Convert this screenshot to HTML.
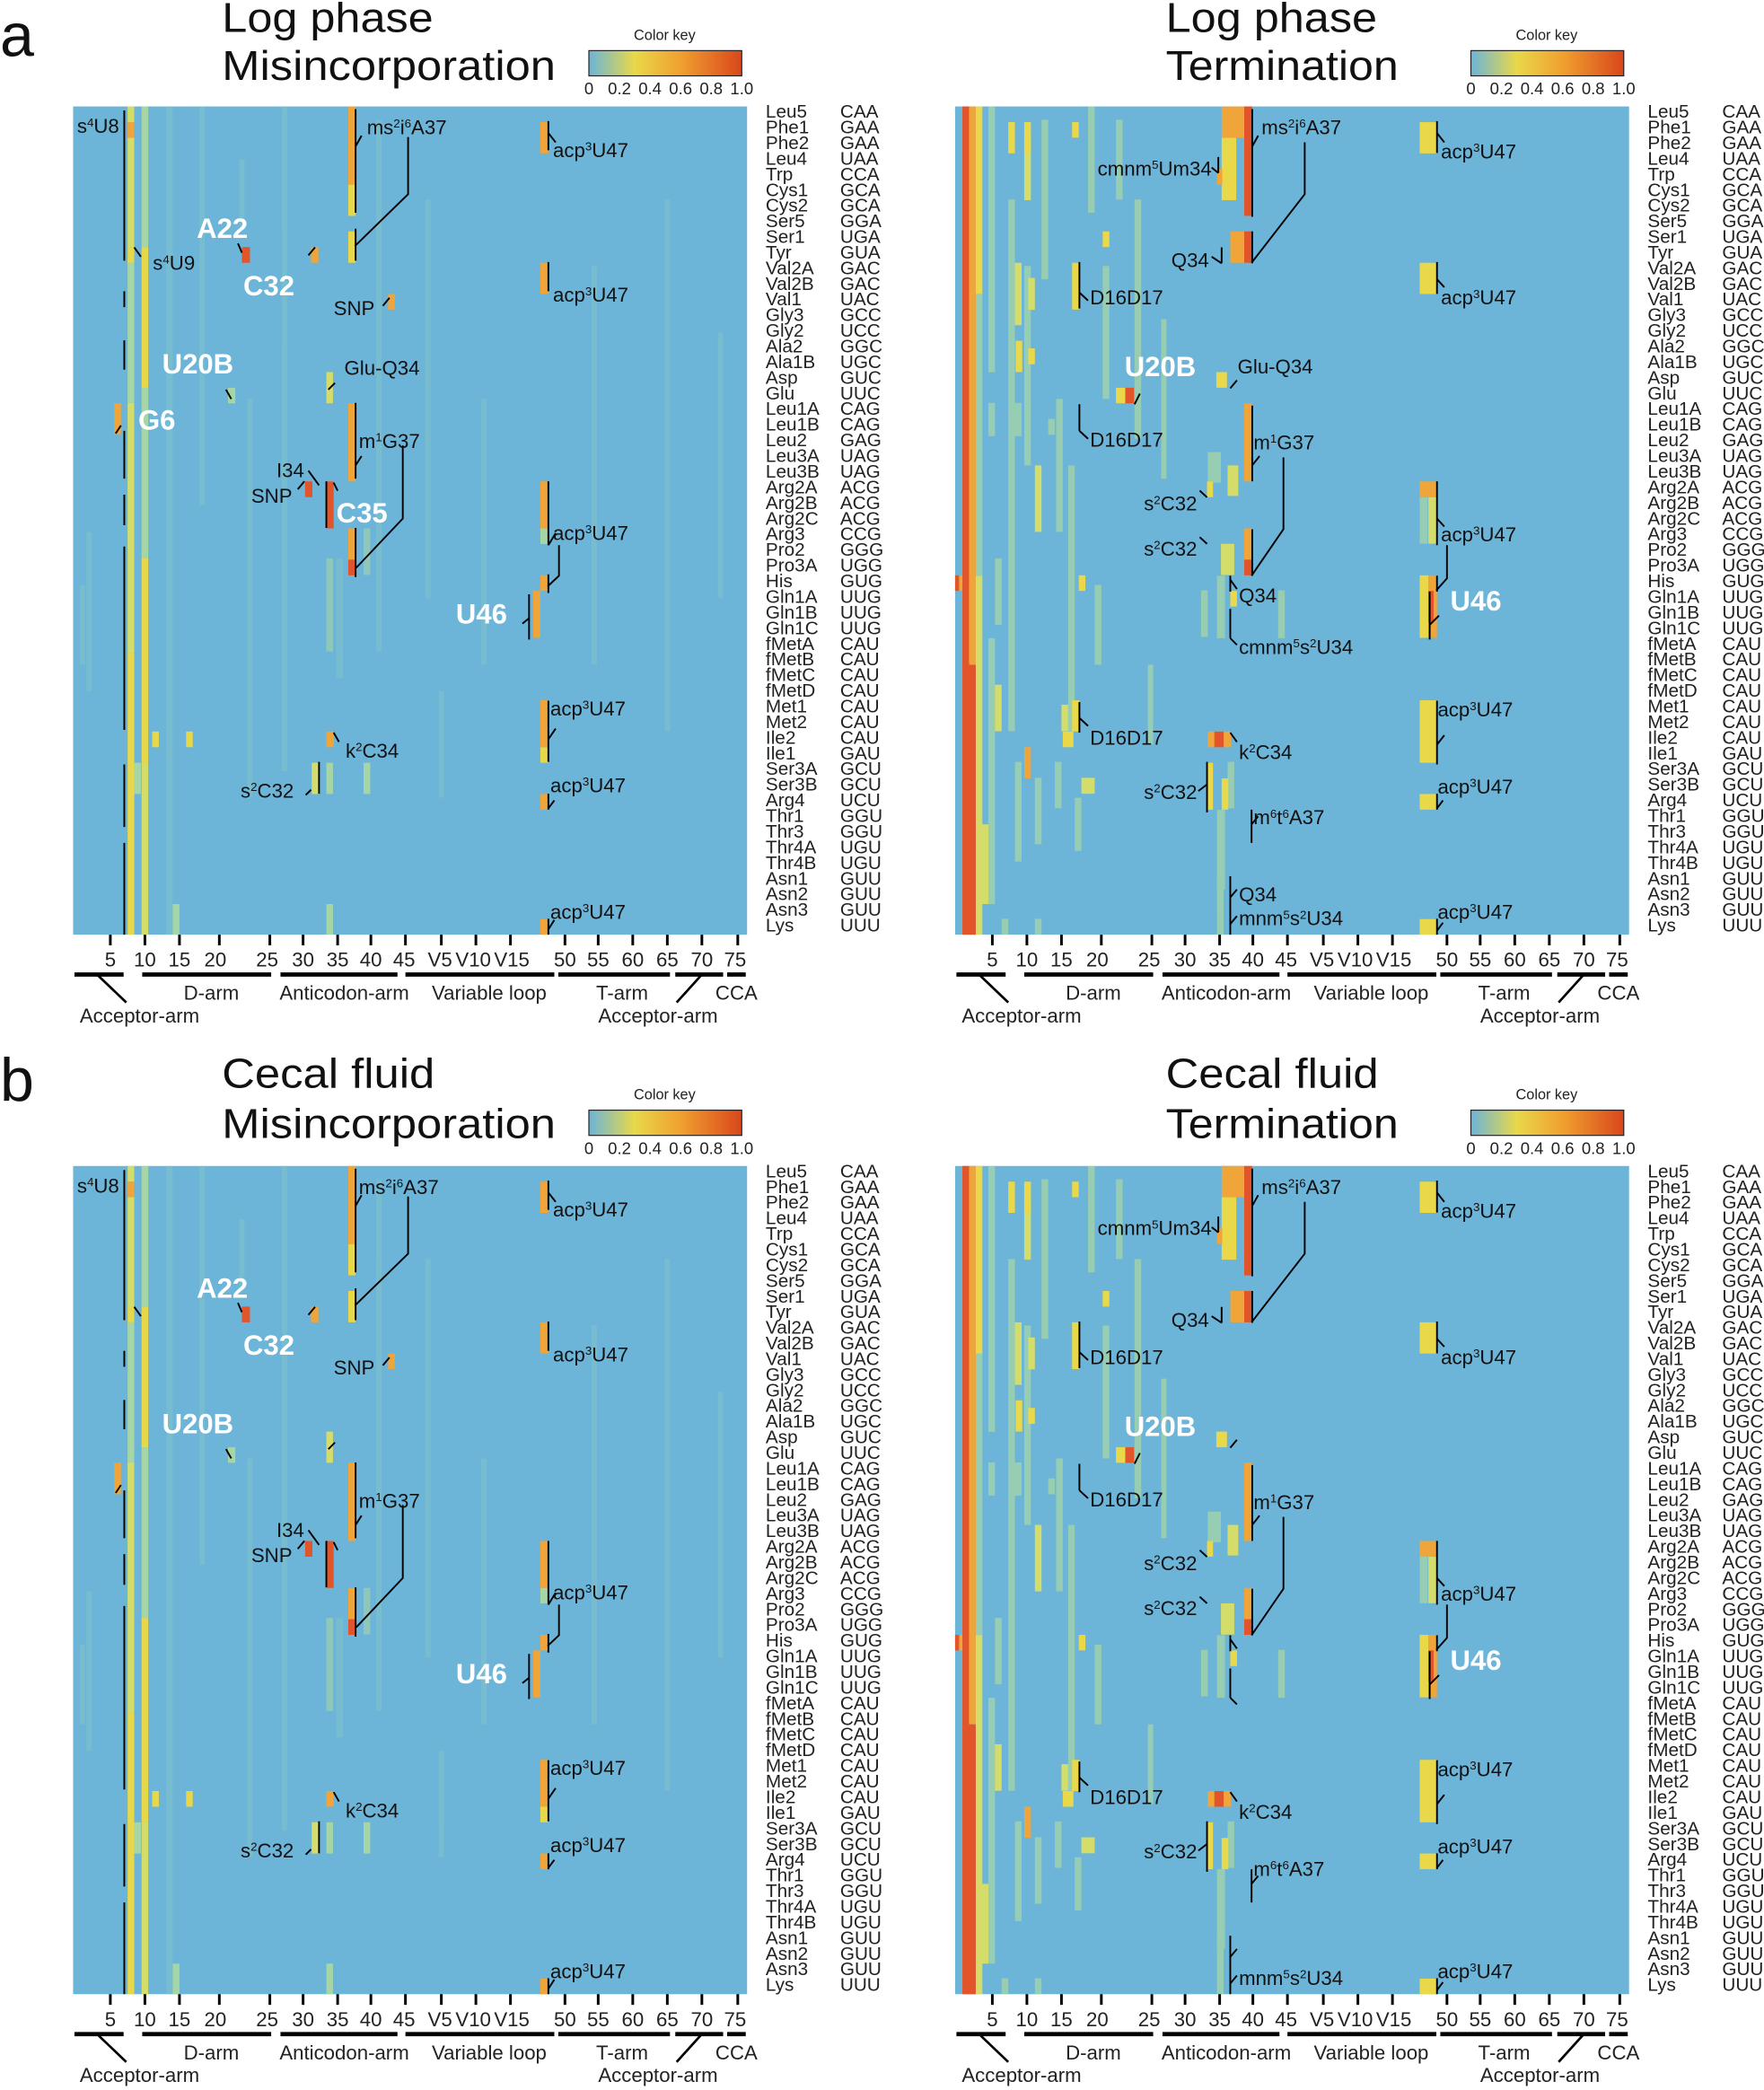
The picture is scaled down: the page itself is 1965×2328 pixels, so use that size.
<!DOCTYPE html>
<html><head><meta charset="utf-8"><style>html,body{margin:0;padding:0;background:#fff}svg{display:block}</style></head>
<body>
<svg width="1965" height="2328" viewBox="0 0 1327 1572" xmlns="http://www.w3.org/2000/svg" xmlns:xlink="http://www.w3.org/1999/xlink" font-family="'Liberation Sans', Arial, sans-serif">
<defs>
<linearGradient id="ck" x1="0" x2="1" y1="0" y2="0">
<stop offset="0" stop-color="#6cb4d8"/><stop offset="0.3" stop-color="#e8d84a"/><stop offset="0.6" stop-color="#f0a030"/><stop offset="1" stop-color="#d9461c"/>
</linearGradient>

<g id="hmL">
<rect x="55" y="80" width="507" height="623" fill="#6cb4d8"/>
<g fill="#80c2cc" opacity="0.6">
<rect x="125" y="80" width="5" height="623"/><rect x="150" y="80" width="4" height="300"/><rect x="186" y="300" width="4" height="300"/>
<rect x="212" y="80" width="4" height="500"/><rect x="283" y="90" width="4" height="400"/><rect x="320" y="150" width="4" height="300"/>
<rect x="362" y="300" width="4" height="200"/><rect x="445" y="200" width="4" height="300"/><rect x="500" y="150" width="4" height="400"/>
<rect x="540" y="250" width="4" height="200"/><rect x="65" y="400" width="4" height="120"/><rect x="60" y="440" width="4" height="60"/>
<rect x="253" y="420" width="5" height="90"/><rect x="180" y="120" width="4" height="50"/><rect x="330" y="520" width="4" height="80"/>
</g>
<g fill="#a6d6a6">
<rect x="96" y="197.6" width="5" height="105.4"/><rect x="106.5" y="80" width="5" height="105.8"/><rect x="106.5" y="291.6" width="5" height="128.4"/>
<rect x="171.5" y="291.6" width="5.5" height="11.7"/><rect x="406.5" y="397.4" width="6" height="11.7"/><rect x="245.5" y="420" width="5" height="70" opacity="0.6"/>
<rect x="273.5" y="397.4" width="5" height="35" opacity="0.6"/><rect x="245.5" y="573.7" width="5" height="23.5"/><rect x="273.5" y="573.7" width="5" height="23.5"/>
<rect x="245.5" y="680" width="5" height="23"/><rect x="130" y="680" width="5" height="23"/><rect x="101" y="573.7" width="5" height="23.5"/>
</g>
<g fill="#d4dd6a">
<rect x="96" y="80" width="5" height="11.8"/><rect x="96" y="103.5" width="5" height="82.3"/><rect x="96" y="303" width="5" height="188"/>
<rect x="106.5" y="573.7" width="5" height="129.3"/><rect x="245.5" y="279.8" width="5" height="23.5"/><rect x="234.5" y="573.7" width="5.5" height="23.5"/>
</g>
<g fill="#e6d84a">
<rect x="96" y="185.8" width="5" height="11.8"/><rect x="96" y="491" width="5" height="212"/><rect x="106.5" y="185.8" width="5" height="105.8"/>
<rect x="106.5" y="420" width="5" height="153.7"/><rect x="262" y="138.8" width="5.5" height="23.5"/><rect x="262" y="174" width="5.5" height="23.6"/>
<rect x="114.5" y="550.2" width="5" height="11.8"/><rect x="140" y="550.2" width="5" height="11.8"/><rect x="406.5" y="562" width="6" height="11.7"/>
</g>
<g fill="#f0a53a">
<rect x="96" y="91.8" width="5" height="11.7"/><rect x="86" y="303.3" width="5" height="23.6"/><rect x="262" y="80" width="5.5" height="58.8"/>
<rect x="262" y="303.3" width="5.5" height="58.8"/><rect x="262" y="397.4" width="5.5" height="23.5"/><rect x="234" y="185.8" width="5.5" height="11.8"/>
<rect x="292" y="221.1" width="5" height="11.7"/><rect x="406.5" y="91.8" width="6" height="23.5"/><rect x="406.5" y="197.6" width="6" height="23.5"/>
<rect x="406.5" y="362.1" width="6" height="35.3"/><rect x="406.5" y="432.7" width="6" height="11.7"/><rect x="401" y="444.4" width="5.5" height="35.3"/>
<rect x="406.5" y="526.7" width="6" height="35.3"/><rect x="406.5" y="597.2" width="6" height="11.8"/><rect x="406.5" y="691.3" width="6" height="11.7"/>
<rect x="245.5" y="550.2" width="5.5" height="11.8"/>
</g>
<g fill="#e2542a">
<rect x="262" y="420.9" width="5.5" height="11.8"/><rect x="245.5" y="362.1" width="5.5" height="35.3"/><rect x="229.5" y="362.1" width="5.5" height="11.8"/>
<rect x="182" y="185.8" width="6" height="11.8"/>
</g>
<g stroke="#000" stroke-width="1.3" fill="none">
<path d="M93.5 83V196M93.5 219V231M93.5 256V278M93.5 324V360M93.5 372V395M93.5 411V549M93.5 575V622M93.5 634V703"/>
<path d="M267.5 82V160M267.5 172V196M267.5 303V360M267.5 397V434"/>
<path d="M412.5 91V113M412.5 197V219M412.5 362V410M412.5 432V446M412.5 527V573M412.5 597V609M412.5 691V703"/>
<path d="M398 447V481M245.5 362V397M240 573V597"/>
<path d="M267.5 110L272 102M307 103V146L267 185M412.5 100L418 107M101 186L106 193M179 183L182 190M232 192L237 186M288 230L293 224M170 293L174 300M252 288L247 293M91 320L87 326M267.5 350L272 343M303 335V390L268 427M229 362L224 368M232 354L240 365M251 363L254 369M412.5 410L418 401M420.5 410V433L412 441M393 469L398 465M412.5 556L418 548M251 551L255 558M234 594L230 598M412.5 608L417 602M412.5 699L417 692"/>
</g>
</g>

<g id="hmR">
<rect x="55" y="80" width="507" height="623" fill="#6cb4d8"/>
<g fill="#a6d6a6" opacity="0.75">
<rect x="70.5" y="221" width="5" height="212"/><rect x="80" y="80" width="5" height="200"/><rect x="95" y="150" width="5" height="400"/>
<rect x="107" y="200" width="5" height="150"/><rect x="120" y="90" width="5" height="120"/><rect x="131" y="300" width="5" height="100"/>
<rect x="155" y="80" width="5" height="80"/><rect x="166" y="200" width="5" height="100"/><rect x="176" y="90" width="5" height="60"/>
<rect x="100" y="573" width="5" height="75"/><rect x="115" y="585" width="5" height="50"/><rect x="130" y="573" width="5" height="35"/><rect x="145" y="600" width="5" height="40"/>
<rect x="80" y="303" width="5" height="25"/><rect x="100" y="303" width="5" height="25"/><rect x="125" y="315" width="5" height="12"/>
<rect x="245" y="340" width="10" height="23"/>
<rect x="252" y="433" width="6" height="47"/><rect x="298" y="444" width="5" height="36"/><rect x="252" y="609" width="6" height="60"/>
<rect x="252" y="660" width="5" height="43"/><rect x="240" y="444" width="5" height="35"/><rect x="260" y="573" width="5" height="35"/>
<rect x="404.5" y="373.9" width="6" height="35"/><rect x="90" y="691" width="5" height="12"/><rect x="115" y="691" width="5" height="12"/><rect x="190" y="150" width="5" height="180"/>
<rect x="210" y="240" width="4" height="120"/><rect x="140" y="350" width="5" height="200"/><rect x="80" y="480" width="5" height="200"/>
<rect x="85" y="420" width="5" height="50"/><rect x="160" y="440" width="5" height="60"/><rect x="200" y="500" width="4" height="60"/>
</g>
<g fill="#d4dd6a">
<rect x="70.5" y="433" width="5" height="270"/><rect x="107" y="103.5" width="5" height="47"/><rect x="100" y="197.6" width="5" height="47"/><rect x="110" y="209" width="5" height="24"/>
<rect x="115" y="350" width="5" height="50"/><rect x="260" y="350" width="8" height="23"/><rect x="255" y="409" width="10" height="23.5"/>
<rect x="85" y="515" width="5" height="35"/><rect x="150" y="585" width="10" height="12"/><rect x="75" y="620" width="5" height="60"/>
<rect x="135" y="530" width="5" height="20"/><rect x="411" y="373.9" width="6.5" height="35"/>
</g>
<g fill="#e8d84a">
<rect x="70.5" y="80" width="5" height="141"/><rect x="95" y="91.8" width="5" height="23.5"/><rect x="107" y="91.8" width="5" height="23.5"/>
<rect x="143" y="197.6" width="5.5" height="35.2"/><rect x="100.5" y="256.3" width="5" height="23.5"/><rect x="110" y="262" width="5" height="12"/><rect x="143" y="91.8" width="5" height="11.7"/>
<rect x="166" y="174" width="5" height="11.8"/><rect x="176" y="291.6" width="7" height="11.7"/><rect x="143" y="526.7" width="5.5" height="23.5"/>
<rect x="136" y="550.2" width="8" height="11.8"/><rect x="255.5" y="103.5" width="11" height="47"/><rect x="251.5" y="279.8" width="8" height="11.8"/>
<rect x="244.5" y="362.1" width="4.5" height="11.8"/><rect x="244.5" y="573.7" width="4.5" height="35.3"/><rect x="255.5" y="585.5" width="5" height="23.5"/>
<rect x="404.5" y="91.8" width="13" height="23.5"/><rect x="404.5" y="197.6" width="13" height="23.5"/><rect x="404.5" y="526.7" width="13" height="47"/>
<rect x="404.5" y="597.2" width="13" height="11.8"/><rect x="404.5" y="691.3" width="13" height="11.7"/><rect x="404.5" y="432.7" width="6.5" height="47"/>
<rect x="262" y="444.4" width="5" height="11.8"/><rect x="148" y="432.7" width="5" height="11.7"/>
</g>
<g fill="#f0a53a">
<rect x="65.5" y="80" width="5" height="420"/><rect x="255.5" y="80" width="17" height="23.5"/><rect x="262" y="174" width="10.5" height="23.6"/>
<rect x="107" y="562" width="5" height="23.5"/><rect x="404.5" y="362.1" width="13" height="11.8"/><rect x="411" y="432.7" width="6.5" height="47"/>
<rect x="245" y="550.2" width="17.5" height="11.8"/><rect x="272.5" y="303.3" width="6" height="58.8"/><rect x="272.5" y="397.4" width="6" height="23.5"/>
<rect x="252" y="127" width="4" height="11.8"/><rect x="55" y="432.7" width="5.5" height="11.7"/>
</g>
<g fill="#e2542a">
<rect x="60.5" y="80" width="5" height="623"/><rect x="65.5" y="500" width="5" height="203"/><rect x="272.5" y="80" width="6" height="82.3"/>
<rect x="272.5" y="174" width="6" height="23.6"/><rect x="183" y="291.6" width="6.5" height="11.7"/><rect x="272.5" y="420.9" width="6" height="11.8"/>
<rect x="250" y="550.2" width="7" height="11.8"/><rect x="55" y="432.7" width="3" height="11.7"/><rect x="411" y="444.4" width="4" height="23.5"/>
</g>
<g stroke="#000" stroke-width="1.3" fill="none">
<path d="M278.5 82V163M278.5 174V198M278.5 305V362M278.5 398V433M417.5 91V115M417.5 197V221M417.5 362V410M417.5 433V445M417.5 527V575M417.5 597V609M417.5 691V703"/>
<path d="M412 445V481M148.5 197V232M148.5 304V324M148.5 528V551M244.5 573V611M278 609V634M262 659V703M262 458V480M262 433V445M253 118V130M255.5 186V198"/>
<path d="M278.5 110L283 102M318 107V146L278 197.6M253 130L248 126M255.5 198L248 193M148.5 220L155 226M148.5 324L155 330M148.5 540L155 546M417.5 100L423 107M417.5 210L423 216M190 304L194 296M262 292L267 286M278.5 350L284 343M302 344V398L278 433M244.5 374L239 369M244.5 409L239 404M417.5 390L423 396M425 410V435L417 444M412 470L419 463M262 436L267 443M262 480L267 485M262 551L267 558M417.5 560L423 553M244.5 590L238 595M417.5 608L422 602M278 620L283 614M262 675L267 669M262 695L267 689M417.5 700L422 694"/>
</g>
</g>

<g id="axis" font-size="15" fill="#222" text-anchor="middle">
<path stroke="#000" stroke-width="2" d="M83 703V711M109 703V711M135 703V711M165 703V711M203 703V711M228 703V711M254 703V711M279 703V711M305 703V711M332 703V711M358 703V711M384 703V711M425 703V711M450 703V711M476 703V711M502 703V711M528 703V711M555 703V711"/>
<text x="83" y="727">5</text><text x="109" y="727">10</text><text x="135" y="727">15</text><text x="162" y="727">20</text><text x="201" y="727">25</text><text x="228" y="727">30</text><text x="254" y="727">35</text><text x="279" y="727">40</text><text x="304" y="727">45</text><text x="331" y="727">V5</text><text x="356" y="727">V10</text><text x="385" y="727">V15</text><text x="425" y="727">50</text><text x="450" y="727">55</text><text x="476" y="727">60</text><text x="502" y="727">65</text><text x="528" y="727">70</text><text x="553" y="727">75</text>
<path stroke="#000" stroke-width="3.2" d="M56 733H93M107 733H204M211 733H299M305 733H417M420 733H504M508 733H544M547 733H561"/>
<path stroke="#000" stroke-width="1.8" d="M73 733L95 754M528 733L509 754"/>
<text x="159" y="752">D-arm</text><text x="259" y="752">Anticodon-arm</text><text x="368" y="752">Variable loop</text><text x="468" y="752">T-arm</text><text x="554" y="752">CCA</text>
<text x="105" y="769">Acceptor-arm</text><text x="495" y="769">Acceptor-arm</text>
</g>

<g id="ckey">
<text x="500" y="30" font-size="11" text-anchor="middle" fill="#222">Color key</text>
<rect x="443" y="38" width="115" height="19" fill="url(#ck)" stroke="#222" stroke-width="0.8"/>
<g font-size="12.5" text-anchor="middle" fill="#222"><text x="443" y="71">0</text><text x="466" y="71">0.2</text><text x="489" y="71">0.4</text><text x="512" y="71">0.6</text><text x="535" y="71">0.8</text><text x="558" y="71">1.0</text></g>
</g>

<g id="rows" font-size="14" fill="#222">
<g transform="translate(576,0)">
<text y="88.5">Leu5</text><text y="100.3">Phe1</text><text y="112">Phe2</text><text y="123.8">Leu4</text><text y="135.6">Trp</text><text y="147.4">Cys1</text><text y="159.1">Cys2</text><text y="170.9">Ser5</text><text y="182.7">Ser1</text><text y="194.4">Tyr</text><text y="206.2">Val2A</text><text y="218">Val2B</text><text y="229.7">Val1</text><text y="241.5">Gly3</text><text y="253.3">Gly2</text><text y="265">Ala2</text><text y="276.8">Ala1B</text><text y="288.6">Asp</text><text y="300.4">Glu</text><text y="312.1">Leu1A</text><text y="323.9">Leu1B</text><text y="335.7">Leu2</text><text y="347.4">Leu3A</text><text y="359.2">Leu3B</text><text y="371">Arg2A</text><text y="382.8">Arg2B</text><text y="394.5">Arg2C</text><text y="406.3">Arg3</text><text y="418.1">Pro2</text><text y="429.8">Pro3A</text><text y="441.6">His</text><text y="453.4">Gln1A</text><text y="465.2">Gln1B</text><text y="476.9">Gln1C</text><text y="488.7">fMetA</text><text y="500.5">fMetB</text><text y="512.2">fMetC</text><text y="524">fMetD</text><text y="535.8">Met1</text><text y="547.6">Met2</text><text y="559.3">Ile2</text><text y="571.1">Ile1</text><text y="582.9">Ser3A</text><text y="594.6">Ser3B</text><text y="606.4">Arg4</text><text y="618.2">Thr1</text><text y="629.9">Thr3</text><text y="641.7">Thr4A</text><text y="653.5">Thr4B</text><text y="665.3">Asn1</text><text y="677">Asn2</text><text y="688.8">Asn3</text><text y="700.6">Lys</text>
</g>
<g transform="translate(632,0)">
<text y="88.5">CAA</text><text y="100.3">GAA</text><text y="112">GAA</text><text y="123.8">UAA</text><text y="135.6">CCA</text><text y="147.4">GCA</text><text y="159.1">GCA</text><text y="170.9">GGA</text><text y="182.7">UGA</text><text y="194.4">GUA</text><text y="206.2">GAC</text><text y="218">GAC</text><text y="229.7">UAC</text><text y="241.5">GCC</text><text y="253.3">UCC</text><text y="265">GGC</text><text y="276.8">UGC</text><text y="288.6">GUC</text><text y="300.4">UUC</text><text y="312.1">CAG</text><text y="323.9">CAG</text><text y="335.7">GAG</text><text y="347.4">UAG</text><text y="359.2">UAG</text><text y="371">ACG</text><text y="382.8">ACG</text><text y="394.5">ACG</text><text y="406.3">CCG</text><text y="418.1">GGG</text><text y="429.8">UGG</text><text y="441.6">GUG</text><text y="453.4">UUG</text><text y="465.2">UUG</text><text y="476.9">UUG</text><text y="488.7">CAU</text><text y="500.5">CAU</text><text y="512.2">CAU</text><text y="524">CAU</text><text y="535.8">CAU</text><text y="547.6">CAU</text><text y="559.3">CAU</text><text y="571.1">GAU</text><text y="582.9">GCU</text><text y="594.6">GCU</text><text y="606.4">UCU</text><text y="618.2">GGU</text><text y="629.9">GGU</text><text y="641.7">UGU</text><text y="653.5">UGU</text><text y="665.3">GUU</text><text y="677">GUU</text><text y="688.8">GUU</text><text y="700.6">UUU</text>
</g>
</g>
</defs>

<text x="0" y="42" font-size="46" fill="#111">a</text>
<text x="0" y="828" font-size="46" fill="#111">b</text>

<!-- a left -->
<g>
<text x="167" y="24" font-size="31" fill="#111" textLength="159" lengthAdjust="spacingAndGlyphs">Log phase</text>
<text x="167" y="60" font-size="31" fill="#111" textLength="251" lengthAdjust="spacingAndGlyphs">Misincorporation</text>
<use xlink:href="#ckey"/><use xlink:href="#hmL"/><use xlink:href="#axis"/><use xlink:href="#rows"/>
<g font-size="15" fill="#111">
<text x="58" y="100">s<tspan dy="-5" font-size="9">4</tspan><tspan dy="5">U8</tspan></text>
<text x="276" y="101">ms<tspan dy="-5" font-size="9">2</tspan><tspan dy="5">i</tspan><tspan dy="-5" font-size="9">6</tspan><tspan dy="5">A37</tspan></text>
<text x="416" y="118">acp<tspan dy="-5" font-size="9">3</tspan><tspan dy="5">U47</tspan></text>
<text x="115" y="203">s<tspan dy="-5" font-size="9">4</tspan><tspan dy="5">U9</tspan></text>
<text x="251" y="237">SNP</text>
<text x="416" y="227">acp<tspan dy="-5" font-size="9">3</tspan><tspan dy="5">U47</tspan></text>
<text x="259" y="282">Glu-Q34</text>
<text x="270" y="337">m<tspan dy="-5" font-size="9">1</tspan><tspan dy="5">G37</tspan></text>
<text x="208" y="359">I34</text>
<text x="189" y="378">SNP</text>
<text x="416" y="406">acp<tspan dy="-5" font-size="9">3</tspan><tspan dy="5">U47</tspan></text>
<text x="414" y="538">acp<tspan dy="-5" font-size="9">3</tspan><tspan dy="5">U47</tspan></text>
<text x="260" y="570">k<tspan dy="-5" font-size="9">2</tspan><tspan dy="5">C34</tspan></text>
<text x="181" y="600">s<tspan dy="-5" font-size="9">2</tspan><tspan dy="5">C32</tspan></text>
<text x="414" y="596">acp<tspan dy="-5" font-size="9">3</tspan><tspan dy="5">U47</tspan></text>
<text x="414" y="691">acp<tspan dy="-5" font-size="9">3</tspan><tspan dy="5">U47</tspan></text>
</g>
<g font-size="21" font-weight="bold" fill="#fff">
<text x="148" y="179">A22</text><text x="183" y="222">C32</text><text x="122" y="281">U20B</text><text x="104" y="323">G6</text><text x="253" y="393">C35</text><text x="343" y="469">U46</text>
</g>
</g>

<!-- a right -->
<text x="877" y="24" font-size="31" fill="#111" textLength="159" lengthAdjust="spacingAndGlyphs">Log phase</text>
<text x="877" y="60" font-size="31" fill="#111" textLength="175" lengthAdjust="spacingAndGlyphs">Termination</text>
<g transform="translate(663.5,0)">
<use xlink:href="#ckey"/><use xlink:href="#hmR"/><use xlink:href="#axis"/><use xlink:href="#rows"/>
<g font-size="15" fill="#111">
<text x="285.5" y="101">ms<tspan dy="-5" font-size="9">2</tspan><tspan dy="5">i</tspan><tspan dy="-5" font-size="9">6</tspan><tspan dy="5">A37</tspan></text>
<text x="248" y="132" text-anchor="end">cmnm<tspan dy="-5" font-size="9">5</tspan><tspan dy="5">Um34</tspan></text>
<text x="420.5" y="119">acp<tspan dy="-5" font-size="9">3</tspan><tspan dy="5">U47</tspan></text>
<text x="246" y="201" text-anchor="end">Q34</text>
<text x="156.5" y="229">D16D17</text>
<text x="420.5" y="229">acp<tspan dy="-5" font-size="9">3</tspan><tspan dy="5">U47</tspan></text>
<text x="267.5" y="281">Glu-Q34</text>
<text x="156.5" y="336">D16D17</text>
<text x="279.5" y="338">m<tspan dy="-5" font-size="9">1</tspan><tspan dy="5">G37</tspan></text>
<text x="237" y="384" text-anchor="end">s<tspan dy="-5" font-size="9">2</tspan><tspan dy="5">C32</tspan></text>
<text x="237" y="418" text-anchor="end">s<tspan dy="-5" font-size="9">2</tspan><tspan dy="5">C32</tspan></text>
<text x="420.5" y="407">acp<tspan dy="-5" font-size="9">3</tspan><tspan dy="5">U47</tspan></text>
<text x="268.5" y="453">Q34</text>
<text x="268.5" y="492">cmnm<tspan dy="-5" font-size="9">5</tspan><tspan dy="5">s</tspan><tspan dy="-5" font-size="9">2</tspan><tspan dy="5">U34</tspan></text>
<text x="418" y="539">acp<tspan dy="-5" font-size="9">3</tspan><tspan dy="5">U47</tspan></text>
<text x="156.5" y="560">D16D17</text>
<text x="268.5" y="571">k<tspan dy="-5" font-size="9">2</tspan><tspan dy="5">C34</tspan></text>
<text x="237" y="601" text-anchor="end">s<tspan dy="-5" font-size="9">2</tspan><tspan dy="5">C32</tspan></text>
<text x="418" y="597">acp<tspan dy="-5" font-size="9">3</tspan><tspan dy="5">U47</tspan></text>
<text x="279.5" y="620">m<tspan dy="-5" font-size="9">6</tspan><tspan dy="5">t</tspan><tspan dy="-5" font-size="9">6</tspan><tspan dy="5">A37</tspan></text>
<text x="268.5" y="678">Q34</text>
<text x="268.5" y="696">mnm<tspan dy="-5" font-size="9">5</tspan><tspan dy="5">s</tspan><tspan dy="-5" font-size="9">2</tspan><tspan dy="5">U34</tspan></text>
<text x="418" y="691">acp<tspan dy="-5" font-size="9">3</tspan><tspan dy="5">U47</tspan></text>
</g>
<g font-size="21" font-weight="bold" fill="#fff">
<text x="182.5" y="283">U20B</text><text x="427.5" y="459">U46</text>
</g>
</g>

<!-- b left -->
<g transform="translate(0,797)">
<text x="167" y="21" font-size="31" fill="#111" textLength="160" lengthAdjust="spacingAndGlyphs">Cecal fluid</text>
<text x="167" y="59" font-size="31" fill="#111" textLength="251" lengthAdjust="spacingAndGlyphs">Misincorporation</text>
<use xlink:href="#ckey"/><use xlink:href="#hmL"/><use xlink:href="#axis"/><use xlink:href="#rows"/>
<g font-size="15" fill="#111">
<text x="58" y="100">s<tspan dy="-5" font-size="9">4</tspan><tspan dy="5">U8</tspan></text>
<text x="270" y="101">ms<tspan dy="-5" font-size="9">2</tspan><tspan dy="5">i</tspan><tspan dy="-5" font-size="9">6</tspan><tspan dy="5">A37</tspan></text>
<text x="416" y="118">acp<tspan dy="-5" font-size="9">3</tspan><tspan dy="5">U47</tspan></text>
<text x="251" y="237">SNP</text>
<text x="416" y="227">acp<tspan dy="-5" font-size="9">3</tspan><tspan dy="5">U47</tspan></text>
<text x="270" y="337">m<tspan dy="-5" font-size="9">1</tspan><tspan dy="5">G37</tspan></text>
<text x="208" y="359">I34</text>
<text x="189" y="378">SNP</text>
<text x="416" y="406">acp<tspan dy="-5" font-size="9">3</tspan><tspan dy="5">U47</tspan></text>
<text x="414" y="538">acp<tspan dy="-5" font-size="9">3</tspan><tspan dy="5">U47</tspan></text>
<text x="260" y="570">k<tspan dy="-5" font-size="9">2</tspan><tspan dy="5">C34</tspan></text>
<text x="181" y="600">s<tspan dy="-5" font-size="9">2</tspan><tspan dy="5">C32</tspan></text>
<text x="414" y="596">acp<tspan dy="-5" font-size="9">3</tspan><tspan dy="5">U47</tspan></text>
<text x="414" y="691">acp<tspan dy="-5" font-size="9">3</tspan><tspan dy="5">U47</tspan></text>
</g>
<g font-size="21" font-weight="bold" fill="#fff">
<text x="148" y="179">A22</text><text x="183" y="222">C32</text><text x="122" y="281">U20B</text><text x="343" y="469">U46</text>
</g>
</g>

<!-- b right -->
<text x="877" y="818" font-size="31" fill="#111" textLength="160" lengthAdjust="spacingAndGlyphs">Cecal fluid</text>
<text x="877" y="856" font-size="31" fill="#111" textLength="175" lengthAdjust="spacingAndGlyphs">Termination</text>
<g transform="translate(663.5,797)">
<use xlink:href="#ckey"/><use xlink:href="#hmR"/><use xlink:href="#axis"/><use xlink:href="#rows"/>
<g font-size="15" fill="#111">
<text x="285.5" y="101">ms<tspan dy="-5" font-size="9">2</tspan><tspan dy="5">i</tspan><tspan dy="-5" font-size="9">6</tspan><tspan dy="5">A37</tspan></text>
<text x="248" y="132" text-anchor="end">cmnm<tspan dy="-5" font-size="9">5</tspan><tspan dy="5">Um34</tspan></text>
<text x="420.5" y="119">acp<tspan dy="-5" font-size="9">3</tspan><tspan dy="5">U47</tspan></text>
<text x="246" y="201" text-anchor="end">Q34</text>
<text x="156.5" y="229">D16D17</text>
<text x="420.5" y="229">acp<tspan dy="-5" font-size="9">3</tspan><tspan dy="5">U47</tspan></text>
<text x="156.5" y="336">D16D17</text>
<text x="279.5" y="338">m<tspan dy="-5" font-size="9">1</tspan><tspan dy="5">G37</tspan></text>
<text x="237" y="384" text-anchor="end">s<tspan dy="-5" font-size="9">2</tspan><tspan dy="5">C32</tspan></text>
<text x="237" y="418" text-anchor="end">s<tspan dy="-5" font-size="9">2</tspan><tspan dy="5">C32</tspan></text>
<text x="420.5" y="407">acp<tspan dy="-5" font-size="9">3</tspan><tspan dy="5">U47</tspan></text>
<text x="418" y="539">acp<tspan dy="-5" font-size="9">3</tspan><tspan dy="5">U47</tspan></text>
<text x="156.5" y="560">D16D17</text>
<text x="268.5" y="571">k<tspan dy="-5" font-size="9">2</tspan><tspan dy="5">C34</tspan></text>
<text x="237" y="601" text-anchor="end">s<tspan dy="-5" font-size="9">2</tspan><tspan dy="5">C32</tspan></text>
<text x="418" y="597">acp<tspan dy="-5" font-size="9">3</tspan><tspan dy="5">U47</tspan></text>
<text x="279.5" y="614">m<tspan dy="-5" font-size="9">6</tspan><tspan dy="5">t</tspan><tspan dy="-5" font-size="9">6</tspan><tspan dy="5">A37</tspan></text>
<text x="268.5" y="696">mnm<tspan dy="-5" font-size="9">5</tspan><tspan dy="5">s</tspan><tspan dy="-5" font-size="9">2</tspan><tspan dy="5">U34</tspan></text>
<text x="418" y="691">acp<tspan dy="-5" font-size="9">3</tspan><tspan dy="5">U47</tspan></text>
</g>
<g font-size="21" font-weight="bold" fill="#fff">
<text x="182.5" y="283">U20B</text><text x="427.5" y="459">U46</text>
</g>
</g>
</svg>
</body></html>
